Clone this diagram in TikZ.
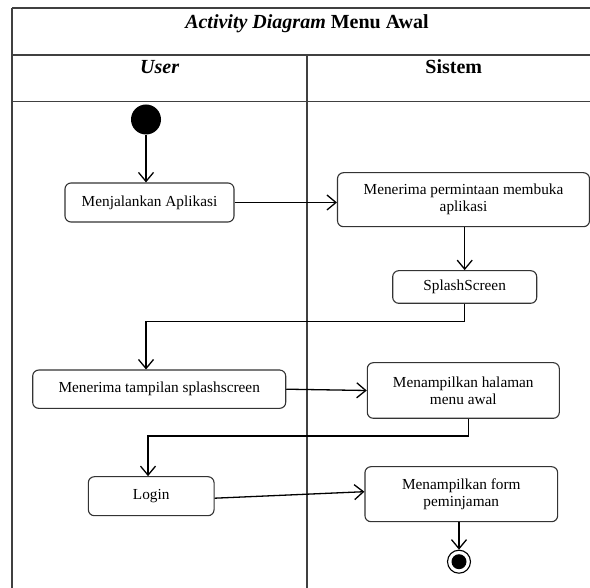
\documentclass[tikz,border=0pt]{standalone}
\usepackage{fontspec}
\setmainfont{Liberation Serif}
\usetikzlibrary{calc,arrows.meta}
\newcommand{\boxfont}{\fontsize{15.3}{17}\selectfont}
\newcommand{\headfont}{\fontsize{20}{24}\selectfont\bfseries}
\newcommand{\laneline}[3]{\draw[laneline] ($(#1)+(#2)$) -- ($(#1)+(#3)$);}
\newcommand{\actbox}[7]{\node[act,minimum width=#5pt,minimum height=#6pt] (#2) at ($(#1)+(#3,#4)$) {#7};}
\tikzset{
  act/.style={draw=black!80,line width=1.1pt,rounded corners=6pt,fill=white,align=center,inner sep=0pt,font=\boxfont},
  flow/.style={black,line width=1.3pt,-{Straight Barb[length=9pt,width=15pt]}},
  laneline/.style={black!75,line width=1.3pt},
  startdot/.style={circle,fill=black,inner sep=0pt,minimum size=30pt},
  enddot/.style={circle,draw=black,line width=1.1pt,inner sep=0pt,minimum size=23pt},
}

\begin{document}
\begin{tikzpicture}[x=1pt,y=-1pt]

    \coordinate (O) at (0,0);
    \useasboundingbox (O) rectangle (590,588);

    \laneline{O}{12,8}{590,8}
    \laneline{O}{12,55}{590,55}
    \laneline{O}{12,101.7}{590,101.7}
    \laneline{O}{12,8}{12,588}
    \laneline{O}{307,55}{307,588}

    \node[anchor=base,font=\headfont] (judul) at ($(O)+(307,29)$) {\textit{Activity Diagram} Menu Awal};
    \node[anchor=base,font=\headfont] (user) at ($(O)+(159.7,74)$) {\textit{User}};
    \node[anchor=base,font=\headfont] (sistem) at ($(O)+(453.8,74)$) {Sistem};

    \node[startdot] (start) at ($(O)+(146,119.5)$) {};

    \actbox{O}{jalan}{149.5}{202.5}{169}{39}{Menjalankan Aplikasi}
    \actbox{O}{terima}{463.5}{199.7}{252}{54}{Menerima permintaan membuka\\aplikasi}
    \actbox{O}{splash}{464.7}{287}{144}{32.6}{SplashScreen}
    \actbox{O}{tampil}{159.2}{389.2}{253}{38.3}{Menerima tampilan splashscreen}
    \actbox{O}{halaman}{463.3}{390.5}{192}{55.6}{Menampilkan halaman\\menu awal}
    \actbox{O}{login}{151.2}{496.2}{125.7}{39}{Login}
    \actbox{O}{form}{461.3}{494.2}{192.7}{55}{Menampilkan form\\peminjaman}

    \node[enddot] (end) at ($(O)+(459,561.7)$) {};
    \node[circle,fill=black,inner sep=0pt,minimum size=15pt] (endin) at (end.center) {};

    \coordinate (k1) at ($(O)+(146,321.7)$);
    \coordinate (k2) at ($(O)+(148,436)$);

    \draw[flow] (start.south) -- (start.south |- jalan.north);
    \draw[flow] (jalan.east) -- (jalan.east -| terima.west);
    \draw[flow] (splash.north |- terima.south) -- (splash.north);
    \draw[flow] (splash.south) |- (k1) -- (k1 |- tampil.north);
    \draw[flow] (tampil.east) -- (halaman.west);
    \draw[flow] ($(halaman.south)+(5,0)$) |- (k2) -- (k2 |- login.north);
    \draw[flow] ($(login.east)+(0,2)$) -- ($(form.west)+(0,-2.5)$);
    \draw[flow] (form.south -| end.north) -- (end.north);

\end{tikzpicture}
\end{document}
